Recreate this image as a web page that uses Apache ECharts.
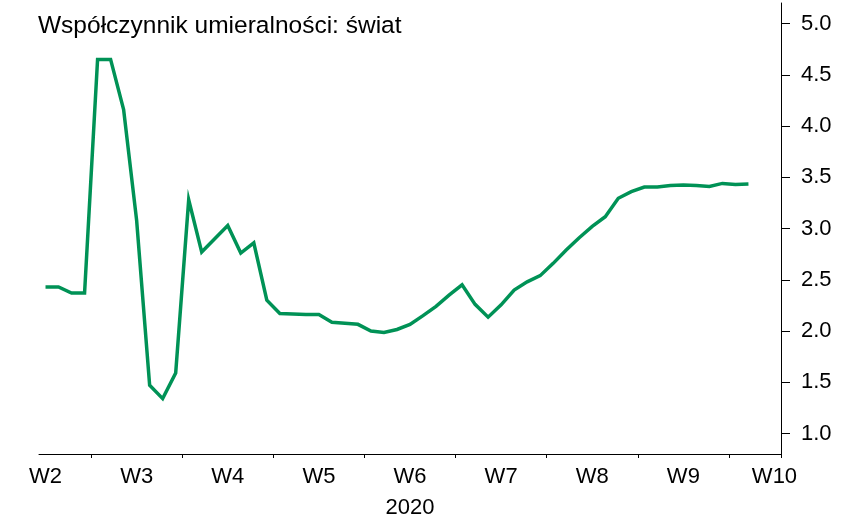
<!DOCTYPE html>
<html>
<head>
<meta charset="utf-8">
<script src="https://cdn.jsdelivr.net/npm/echarts@6/dist/echarts.min.js"></script>
<style>
html,body{margin:0;padding:0;background:#fff;}
#chart{width:854px;height:518px;}
</style>
</head>
<body>
<div id="chart"></div>
<script>
var titleText = 'Współczynnik umieralności: świat';
var axisName = '2020';
var days = [
  '01-09','01-10','01-11','01-12','01-13','01-14','01-15','01-16','01-17','01-18','01-19','01-20','01-21','01-22','01-23','01-24','01-25','01-26','01-27','01-28','01-29','01-30','01-31',
  '02-01','02-02','02-03','02-04','02-05','02-06','02-07','02-08','02-09','02-10','02-11','02-12','02-13','02-14','02-15','02-16','02-17','02-18','02-19','02-20','02-21','02-22','02-23','02-24','02-25','02-26','02-27','02-28','02-29',
  '03-01','03-02','03-03','03-04','03-05'
];
var weekLabels = ['W2','W3','W4','W5','W6','W7','W8','W9','W10'];
var yTickValues = [1.0,1.5,2.0,2.5,3.0,3.5,4.0,4.5,5.0];
var mortality = [
  2.43,2.43,2.37,2.37,4.65,4.65,4.16,3.08,1.47,1.34,
  1.59,3.28,2.77,2.90,3.03,2.76,2.86,2.30,2.17,2.165,
  2.16,2.16,2.085,2.075,2.065,2.00,1.985,2.015,2.065,2.15,
  2.24,2.35,2.45,2.26,2.135,2.255,2.40,2.48,2.54,2.66,
  2.79,2.91,3.02,3.115,3.295,3.36,3.405,3.405,3.42,3.425,
  3.42,3.41,3.44,3.43,3.435
];

var FONT = '"Liberation Sans", Arial, sans-serif';
var chart = echarts.init(document.getElementById('chart'), null, {renderer:'canvas'});
chart.setOption({
  animation: false,
  backgroundColor: '#ffffff',
  title: {
    text: titleText,
    left: 38,
    top: 14,
    padding: 0,
    textStyle: {fontFamily: FONT, fontSize: 24.5, fontWeight: 'normal', color: '#000'}
  },
  grid: {left: 39, right: 73, top: 3, bottom: 64, containLabel: false, outerBoundsMode: 'none'},
  xAxis: {
    type: 'category',
    data: days,
    boundaryGap: true,
    name: axisName,
    nameLocation: 'middle',
    nameGap: 43,
    nameTextStyle: {fontFamily: FONT, fontSize: 22, color: '#000'},
    axisLine: {show: true, lineStyle: {color: '#000', width: 1}},
    axisTick: {
      show: true, length: 4, lineStyle: {color: '#000', width: 1},
      interval: function (idx) { return (idx + 3) % 7 === 0; }
    },
    axisLabel: {
      fontFamily: FONT, fontSize: 22, color: '#000', margin: 12,
      interval: function (idx) { return idx % 7 === 0; },
      formatter: function (v, idx) { return weekLabels[Math.round(idx / 7)]; }
    },
    splitLine: {show: false}
  },
  yAxis: {
    type: 'value',
    position: 'right',
    min: 0.8,
    max: 5.2,
    axisLine: {show: true, lineStyle: {color: '#000', width: 1}},
    axisTick: {show: true, length: 9, lineStyle: {color: '#000', width: 1}, customValues: yTickValues},
    axisLabel: {
      fontFamily: FONT, fontSize: 22, color: '#000', margin: 20,
      customValues: yTickValues,
      formatter: function (v) { return Number(v).toFixed(1); }
    },
    splitLine: {show: false}
  },
  series: [{
    type: 'line',
    data: mortality,
    symbol: 'none',
    lineStyle: {color: '#009256', width: 3.5, join: 'miter'},
    itemStyle: {color: '#009256'}
  }]
});
</script>
</body>
</html>
